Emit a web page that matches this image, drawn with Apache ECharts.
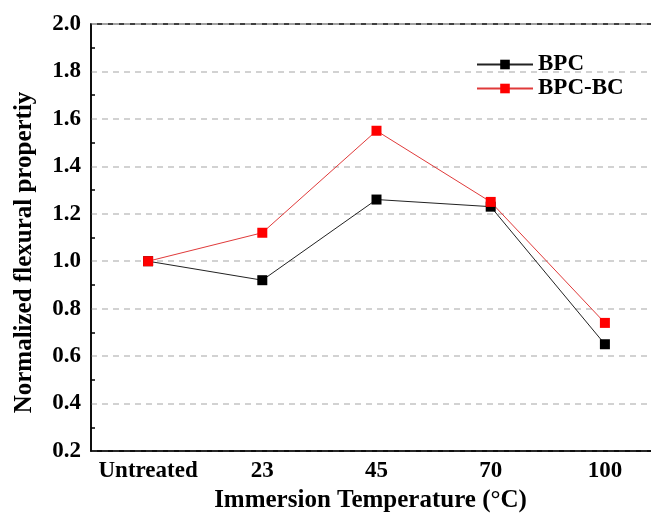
<!DOCTYPE html>
<html>
<head>
<meta charset="utf-8">
<script src="https://cdn.jsdelivr.net/npm/echarts@6/dist/echarts.min.js"></script>
<style>html,body{margin:0;padding:0;background:#fff;}#c{width:651px;height:514px;}</style>
</head>
<body>
<div id="c"></div>
<script>
const categories = ['Untreated', '23', '45', '70', '100'];
const bpc = [1.0, 0.92, 1.26, 1.23, 0.65];
const bpcBc = [1.0, 1.12, 1.55, 1.25, 0.74];
const yTicks = { min: 0.2, max: 2.0, interval: 0.2 };

const font = 'Liberation Serif, Times New Roman, serif';
const chart = echarts.init(document.getElementById('c'), null, { renderer: 'canvas' });
chart.setOption({
  animation: false,
  backgroundColor: '#fff',
  grid: { left: 91, top: 24, width: 571, height: 427, containLabel: false, outerBoundsMode: 'none', show: true, borderColor: '#000', borderWidth: 1.5, backgroundColor: 'transparent' },
  legend: {
    orient: 'vertical', left: 471, top: 48, itemWidth: 56, itemHeight: 12, itemGap: 1,
    textStyle: { fontFamily: font, fontWeight: 'bold', fontSize: 23, color: '#000' },
    data: ['BPC', 'BPC-BC']
  },
  xAxis: [{
    type: 'category', data: categories, boundaryGap: true,
    axisLine: { lineStyle: { color: '#000', width: 1.5 } },
    axisTick: { alignWithLabel: true, inside: true, length: 8, interval: 0, lineStyle: { color: '#000', width: 1.5 } },
    axisLabel: { interval: 0, margin: 9, fontFamily: font, fontWeight: 'bold', fontSize: 23, color: '#000' },
    splitLine: { show: false },
    name: 'Immersion Temperature (°C)', nameLocation: 'middle', nameGap: 28,
    nameTextStyle: { fontFamily: font, fontWeight: 'bold', fontSize: 25, color: '#000', padding: [0, 12, 0, 0] }
  }, {
    type: 'category', data: categories, boundaryGap: true, position: 'bottom',
    axisLine: { show: false },
    axisTick: { inside: true, length: 4, interval: 0, lineStyle: { color: '#000', width: 1.5 } },
    axisLabel: { show: false }, splitLine: { show: false }
  }],
  yAxis: {
    type: 'value', min: yTicks.min, max: yTicks.max, interval: yTicks.interval,
    axisLine: { show: true, lineStyle: { color: '#000', width: 1.5 } },
    axisTick: { inside: true, length: 8, lineStyle: { color: '#000', width: 1.5 } },
    minorTick: { show: true, splitNumber: 2, length: 4, lineStyle: { color: '#000', width: 1.5 } },
    axisLabel: { margin: 10, fontFamily: font, fontWeight: 'bold', fontSize: 23, color: '#000', formatter: v => v.toFixed(1) },
    splitLine: { show: true, lineStyle: { color: '#c4c4c4', width: 1.5, type: [6, 5] } },
    name: 'Normalized flexural propertiy', nameLocation: 'middle', nameGap: 54,
    nameTextStyle: { fontFamily: font, fontWeight: 'bold', fontSize: 25, color: '#000', padding: [0, 30, 0, 0] }
  },
  series: [{
    name: 'BPC', type: 'line', data: bpc, xAxisIndex: 0,
    symbol: 'rect', symbolSize: 10,
    lineStyle: { color: '#222', width: 1 },
    itemStyle: { color: '#000' }
  }, {
    name: 'BPC-BC', type: 'line', data: bpcBc, xAxisIndex: 0,
    symbol: 'rect', symbolSize: 10,
    lineStyle: { color: '#e03a3a', width: 1 },
    itemStyle: { color: '#ff0000' }
  }]
});
</script>
</body>
</html>
